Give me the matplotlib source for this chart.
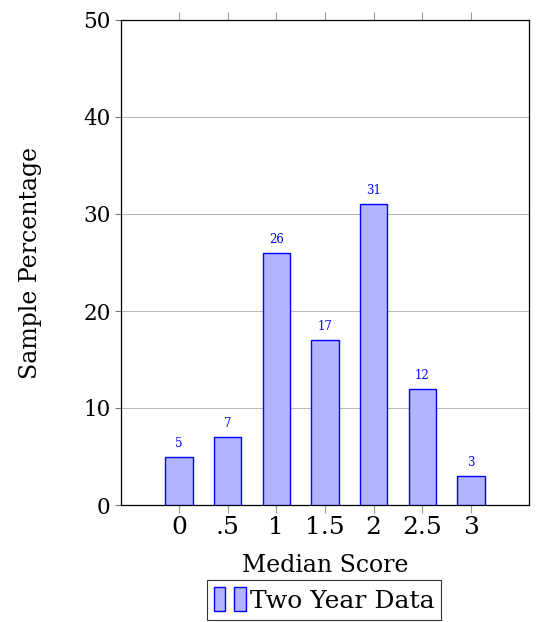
import matplotlib.pyplot as plt
from matplotlib.patches import Patch
from matplotlib.legend_handler import HandlerTuple

categories = ["0", ".5", "1", "1.5", "2", "2.5", "3"]
values = [5, 7, 26, 17, 31, 12, 3]
series_name = "Two Year Data"

plt.rcParams['font.family'] = ['DejaVu Serif']

fig = plt.figure(figsize=(5.4, 6.22), dpi=100)
ax = fig.add_axes([121 / 540, 1 - 505 / 622, 408 / 540, 485 / 622])

fill = (0.7, 0.7, 1.0)
edge = (0.0, 0.0, 1.0)
x = list(range(len(categories)))
bars = ax.bar(x, values, width=0.56, color=fill, edgecolor=edge, linewidth=1.0, zorder=3)
for xi, v in zip(x, values):
    ax.annotate(str(v), (xi, v), xytext=(0, 5), textcoords='offset points',
                ha='center', va='bottom', color=edge, fontsize=8.5)

ax.set_xlim(-1.19, 7.19)
ax.set_ylim(0, 50)
ax.set_yticks([0, 10, 20, 30, 40, 50])
ax.set_xticks(x)
ax.set_xticklabels(categories, fontsize=18)
ax.tick_params(axis='y', labelsize=15.5, length=4, color='#777777')
ax.tick_params(axis='x', length=6, color='#999999', top=True, pad=2)
ax.grid(axis='y', color='#bbbbbb', linewidth=0.8, zorder=0)
for s in ax.spines.values():
    s.set_color('black')
    s.set_linewidth(0.9)

ax.set_ylabel("Sample Percentage", fontsize=17, labelpad=30)
ax.set_xlabel("Median Score", fontsize=17, labelpad=11)

h1 = Patch(facecolor=fill, edgecolor=edge)
h2 = Patch(facecolor=fill, edgecolor=edge)
leg = fig.legend([(h1, h2)], [series_name], handler_map={tuple: HandlerTuple(ndivide=None, pad=0.35)},
                 loc='center', bbox_to_anchor=(324 / 540, 1 - 600 / 622), fontsize=18,
                 frameon=True, fancybox=False, edgecolor='black', handlelength=1.3,
                 handleheight=1.1, handletextpad=0.15, borderpad=0.28, borderaxespad=0)
leg.get_frame().set_linewidth(0.8)

fig.savefig("out.png", dpi=100)
